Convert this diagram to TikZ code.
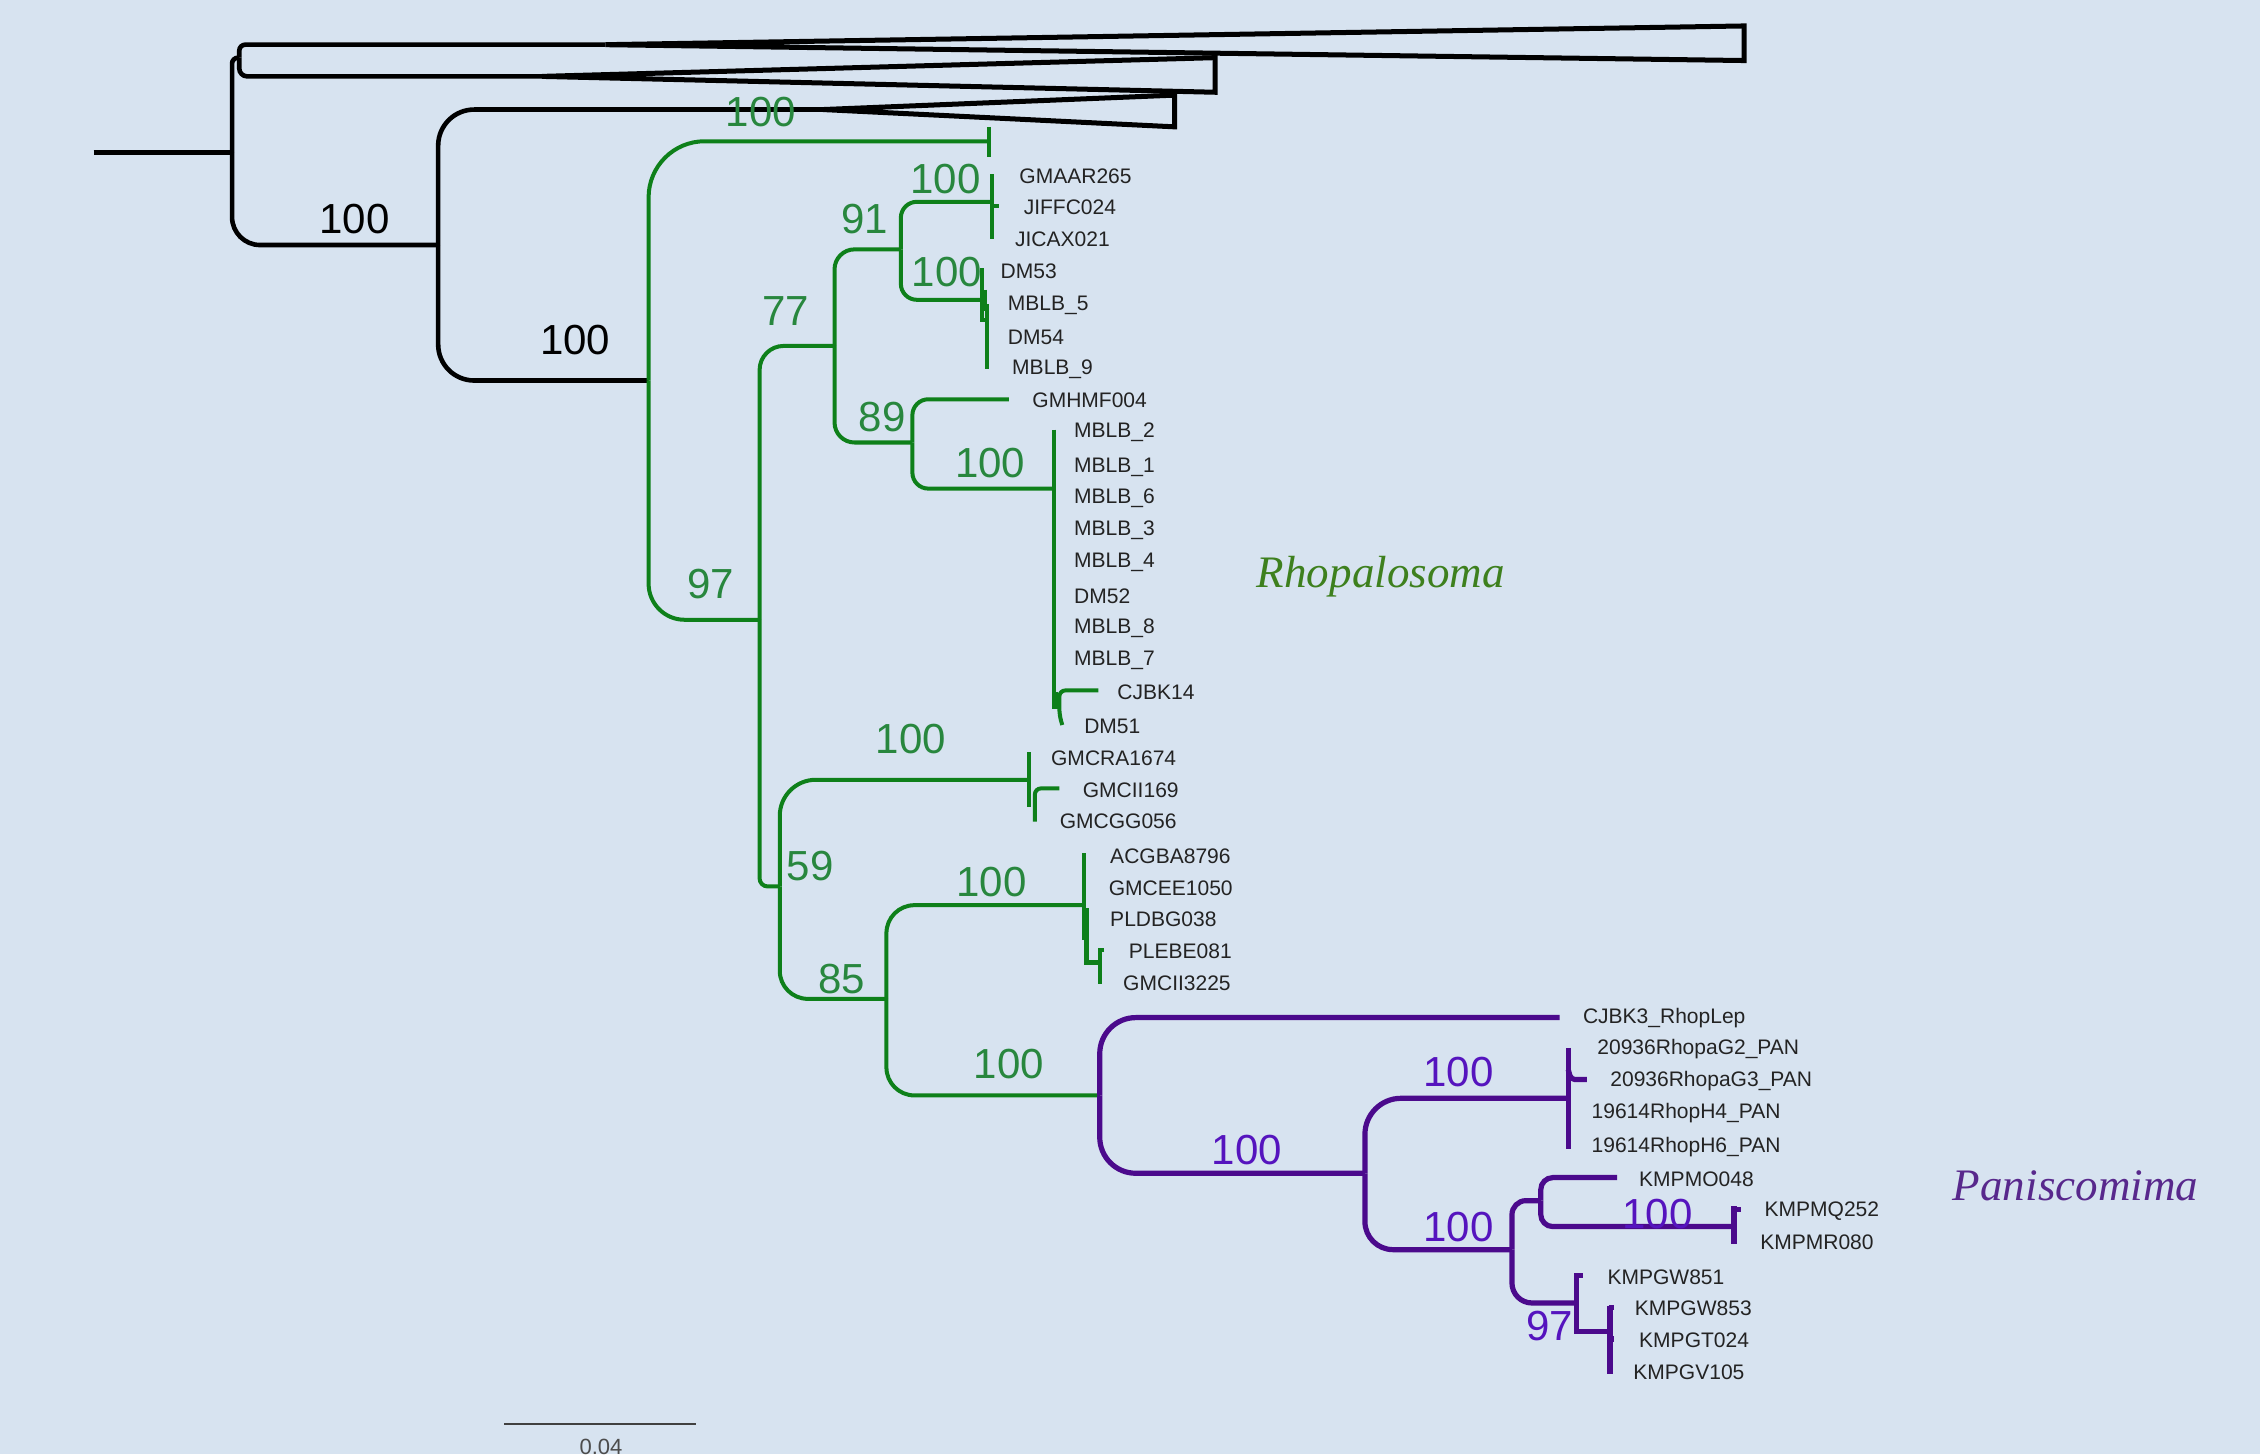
\documentclass[tikz,border=0pt]{standalone}
\usepackage{fontspec}
\setmainfont{Liberation Sans}
\newfontfamily\serifit{Liberation Serif}
\definecolor{bgc}{RGB}{215,227,240}
\definecolor{gline}{RGB}{14,128,26}
\definecolor{glab}{RGB}{40,135,62}
\definecolor{pline}{RGB}{75,10,140}
\definecolor{plab}{RGB}{85,20,190}
\definecolor{rhcol}{RGB}{62,128,30}
\definecolor{pacol}{RGB}{88,40,140}
\definecolor{leafc}{RGB}{35,35,35}
\tikzset{
  blk/.style={draw=black,line width=2.3pt},
  grn/.style={draw=gline,line width=2pt},
  pur/.style={draw=pline,line width=2.6pt},
  wedge/.style={draw=black,line width=2.5pt,line join=miter},
  leaf/.style={anchor=west,inner sep=0pt,text=leafc,font=\fontsize{10.5}{12}\selectfont},
  bs/.style={inner sep=0pt,font=\fontsize{21}{24}\selectfont},
  bsb/.style={bs,text=black},
  bsg/.style={bs,text=glab},
  bsp/.style={bs,text=plab},
}
\begin{document}
\begin{tikzpicture}[x=0.72pt,y=-0.72pt]
\useasboundingbox (0,0) rectangle (1568,1009);
\fill[bgc] (0,0) rectangle (1568,1009);
\clip (0,0) rectangle (1568,1009);
% ---------- node coordinates ----------
\coordinate (R0) at (65,106);
\coordinate (N1) at (161,106);
\coordinate (Nt) at (166,40);
\coordinate (W1) at (420,31);
\coordinate (W2) at (376,53);
\coordinate (N2) at (304,170);
\coordinate (W3) at (571,76);
\coordinate (G1) at (450,264);
\coordinate (T0) at (686,98);
\coordinate (G2) at (527,430);
\coordinate (G3) at (579,240);
\coordinate (G4) at (625,173);
\coordinate (G5) at (688,140);
\coordinate (G6) at (681,208);
\coordinate (G7) at (633,307);
\coordinate (L7) at (700,277);
\coordinate (G8) at (731,339);
\coordinate (G10) at (541,615);
\coordinate (G11) at (714,541);
\coordinate (G12) at (615,693);
\coordinate (G13) at (752,628);
\coordinate (P1) at (763,760);
\coordinate (LC3) at (1082,706);
\coordinate (P2) at (947,814);
\coordinate (P3) at (1088,762);
\coordinate (P4) at (1049,867);
\coordinate (P5) at (1069,833);
\coordinate (LMO) at (1122,817);
\coordinate (P6) at (1203,851);
\coordinate (P7) at (1094,904);
\coordinate (P8) at (1117,924);
% ---------- black part ----------
\draw[blk] (R0) -- (N1);
\draw[blk,rounded corners=3pt] (N1) |- (Nt);
\draw[blk,rounded corners=3pt] (Nt) |- (W1);
\draw[blk,rounded corners=4pt] (Nt) |- (W2);
\draw[blk,rounded corners=14pt] (N1) |- (N2);
\draw[blk,rounded corners=18pt] (N2) |- (W3);
\draw[blk,rounded corners=18pt] (N2) |- (G1);
\draw[wedge] (W1) -- (1210,18) -- (1210,42) -- cycle;
\draw[wedge] (W2) -- (843,40) -- (843,64) -- cycle;
\draw[wedge] (W3) -- (815,66) -- (815,88) -- cycle;
% ---------- green part ----------
\draw[grn,rounded corners=28pt] (G1) |- (T0);
\draw[grn] (686,88) -- (686,109);
\draw[grn,rounded corners=18pt] (G1) |- (G2);
\draw[grn,rounded corners=12pt] (G2) |- (G3);
\draw[grn,rounded corners=4pt] (G2) |- (G10);
\draw[grn,rounded corners=10pt] (G3) |- (G4);
\draw[grn,rounded corners=10pt] (G3) |- (G7);
\draw[grn,rounded corners=8pt] (G4) |- (G5);
\draw[grn,rounded corners=8pt] (G4) |- (G6);
\draw[grn] (688,121) -- (688,166);
\draw[grn] (688,143) -- (693,143);
\draw[grn] (681,186) -- (681,222) -- (685,222);
\draw[grn,line width=3pt] (683,201) -- (683,216);
\draw[grn] (685,211) -- (685,256);
\draw[grn,rounded corners=8pt] (G7) |- (L7);
\draw[grn,rounded corners=8pt] (G7) |- (G8);
\draw[grn] (731,298) -- (731,492);
\draw[grn,line width=2.6pt] (732,480) -- (732,492);
\draw[grn,rounded corners=3pt] (762,479) -- (735,479) -- (735,496) -- (737,503);
\draw[grn,rounded corners=18pt] (G10) |- (G11);
\draw[grn,rounded corners=14pt] (G10) |- (G12);
\draw[grn] (714,522) -- (714,560);
\draw[grn,rounded corners=3pt] (735,547) -- (718,547) -- (718,570);
\draw[grn,rounded corners=14pt] (G12) |- (G13);
\draw[grn,rounded corners=14pt] (G12) |- (P1);
\draw[grn] (752,592) -- (752,652);
\draw[grn,line width=2.4pt] (754,630) -- (754,668) -- (763,668);
\draw[grn] (766,659) -- (763,659) -- (763,683);
% ---------- purple part ----------
\draw[pur,rounded corners=18pt] (P1) |- (LC3);
\draw[pur,rounded corners=18pt] (P1) |- (P2);
\draw[pur,rounded corners=18pt] (P2) |- (P3);
\draw[pur,rounded corners=14pt] (P2) |- (P4);
\draw[pur] (1088,727) -- (1088,797);
\draw[pur,rounded corners=2pt] (1088,742) -- (1090,749) -- (1101,749);
\draw[pur,rounded corners=7pt] (P4) |- (P5);
\draw[pur,rounded corners=10pt] (P4) |- (P7);
\draw[pur,rounded corners=6pt] (P5) |- (LMO);
\draw[pur,rounded corners=6pt] (P5) |- (P6);
\draw[pur] (1203,837) -- (1203,863);
\draw[pur] (1202,839) -- (1208,839);
\draw[pur] (1098,885) -- (1094,885) -- (1094,924) -- (P8);
\draw[pur] (1117,906) -- (1117,953);
\draw[pur] (1116,907) -- (1120,907);
\draw[pur] (1117,929) -- (1120,929);
% ---------- bootstrap values ----------
\node[bsb] (b1) at (246,152) {100};
\node[bsb] (b2) at (399,236) {100};
\node[bsg] (b3) at (528,78) {100};
\node[bsg] (b4) at (600,152) {91};
\node[bsg] (b5) at (656,124) {100};
\node[bsg] (b6) at (657,189) {100};
\node[bsg] (b7) at (545,216) {77};
\node[bsg] (b8) at (612,289) {89};
\node[bsg] (b9) at (687,321) {100};
\node[bsg] (b10) at (493,405) {97};
\node[bsg] (b11) at (632,513) {100};
\node[bsg] (b12) at (562,601) {59};
\node[bsg] (b13) at (688,612) {100};
\node[bsg] (b14) at (584,679) {85};
\node[bsg] (b15) at (700,738) {100};
\node[bsp] (b16) at (865,798) {100};
\node[bsp] (b17) at (1012,744) {100};
\node[bsp] (b18) at (1012,851) {100};
\node[bsp] (b19) at (1150,842) {100};
\node[bsp] (b20) at (1075,920) {97};
% ---------- leaf labels ----------
\node[leaf] (t1) at (707,122) {GMAAR265};
\node[leaf] (t2) at (710,144) {JIFFC024};
\node[leaf] (t3) at (704,166) {JICAX021};
\node[leaf] (t4) at (694,188) {DM53};
\node[leaf] (t5) at (699,212) {MBLB\_5};
\node[leaf] (t6) at (699,234) {DM54};
\node[leaf] (t7) at (702,256) {MBLB\_9};
\node[leaf] (t8) at (716,278) {GMHMF004};
\node[leaf] (t9) at (745,300) {MBLB\_2};
\node[leaf] (t10) at (745,324) {MBLB\_1};
\node[leaf] (t11) at (745,346) {MBLB\_6};
\node[leaf] (t12) at (745,368) {MBLB\_3};
\node[leaf] (t13) at (745,390) {MBLB\_4};
\node[leaf] (t14) at (745,414) {DM52};
\node[leaf] (t15) at (745,436) {MBLB\_8};
\node[leaf] (t16) at (745,458) {MBLB\_7};
\node[leaf] (t17) at (775,480) {CJBK14};
\node[leaf] (t18) at (752,504) {DM51};
\node[leaf] (t19) at (729,526) {GMCRA1674};
\node[leaf] (t20) at (751,548) {GMCII169};
\node[leaf] (t21) at (735,570) {GMCGG056};
\node[leaf] (t22) at (770,594) {ACGBA8796};
\node[leaf] (t23) at (769,616) {GMCEE1050};
\node[leaf] (t24) at (770,638) {PLDBG038};
\node[leaf] (t25) at (783,660) {PLEBE081};
\node[leaf] (t26) at (779,682) {GMCII3225};
\node[leaf] (t27) at (1098,706) {CJBK3\_RhopLep};
\node[leaf] (t28) at (1108,728) {20936RhopaG2\_PAN};
\node[leaf] (t29) at (1117,750) {20936RhopaG3\_PAN};
\node[leaf] (t30) at (1104,772) {19614RhopH4\_PAN};
\node[leaf] (t31) at (1104,796) {19614RhopH6\_PAN};
\node[leaf] (t32) at (1137,818) {KMPMO048};
\node[leaf] (t33) at (1224,840) {KMPMQ252};
\node[leaf] (t34) at (1221,862) {KMPMR080};
\node[leaf] (t35) at (1115,886) {KMPGW851};
\node[leaf] (t36) at (1134,908) {KMPGW853};
\node[leaf] (t37) at (1137,930) {KMPGT024};
\node[leaf] (t38) at (1133,952) {KMPGV105};
% ---------- clade names ----------
\node[text=rhcol,font=\serifit\itshape\fontsize{22.5}{26}\selectfont] (rh) at (958,400) {Rhopalosoma};
\node[text=pacol,font=\serifit\itshape\fontsize{22.5}{26}\selectfont] (pa) at (1440,823) {Paniscomima};
% ---------- scale bar ----------
\coordinate (s1) at (350,988);
\coordinate (s2) at (483,988);
\draw[draw=black!75,line width=0.8pt] (s1) -- (s2);
\node[text=black!70,font=\fontsize{11}{13}\selectfont,anchor=north,inner sep=0pt] (sl) at (417,998) {0.04};
\end{tikzpicture}
\end{document}
